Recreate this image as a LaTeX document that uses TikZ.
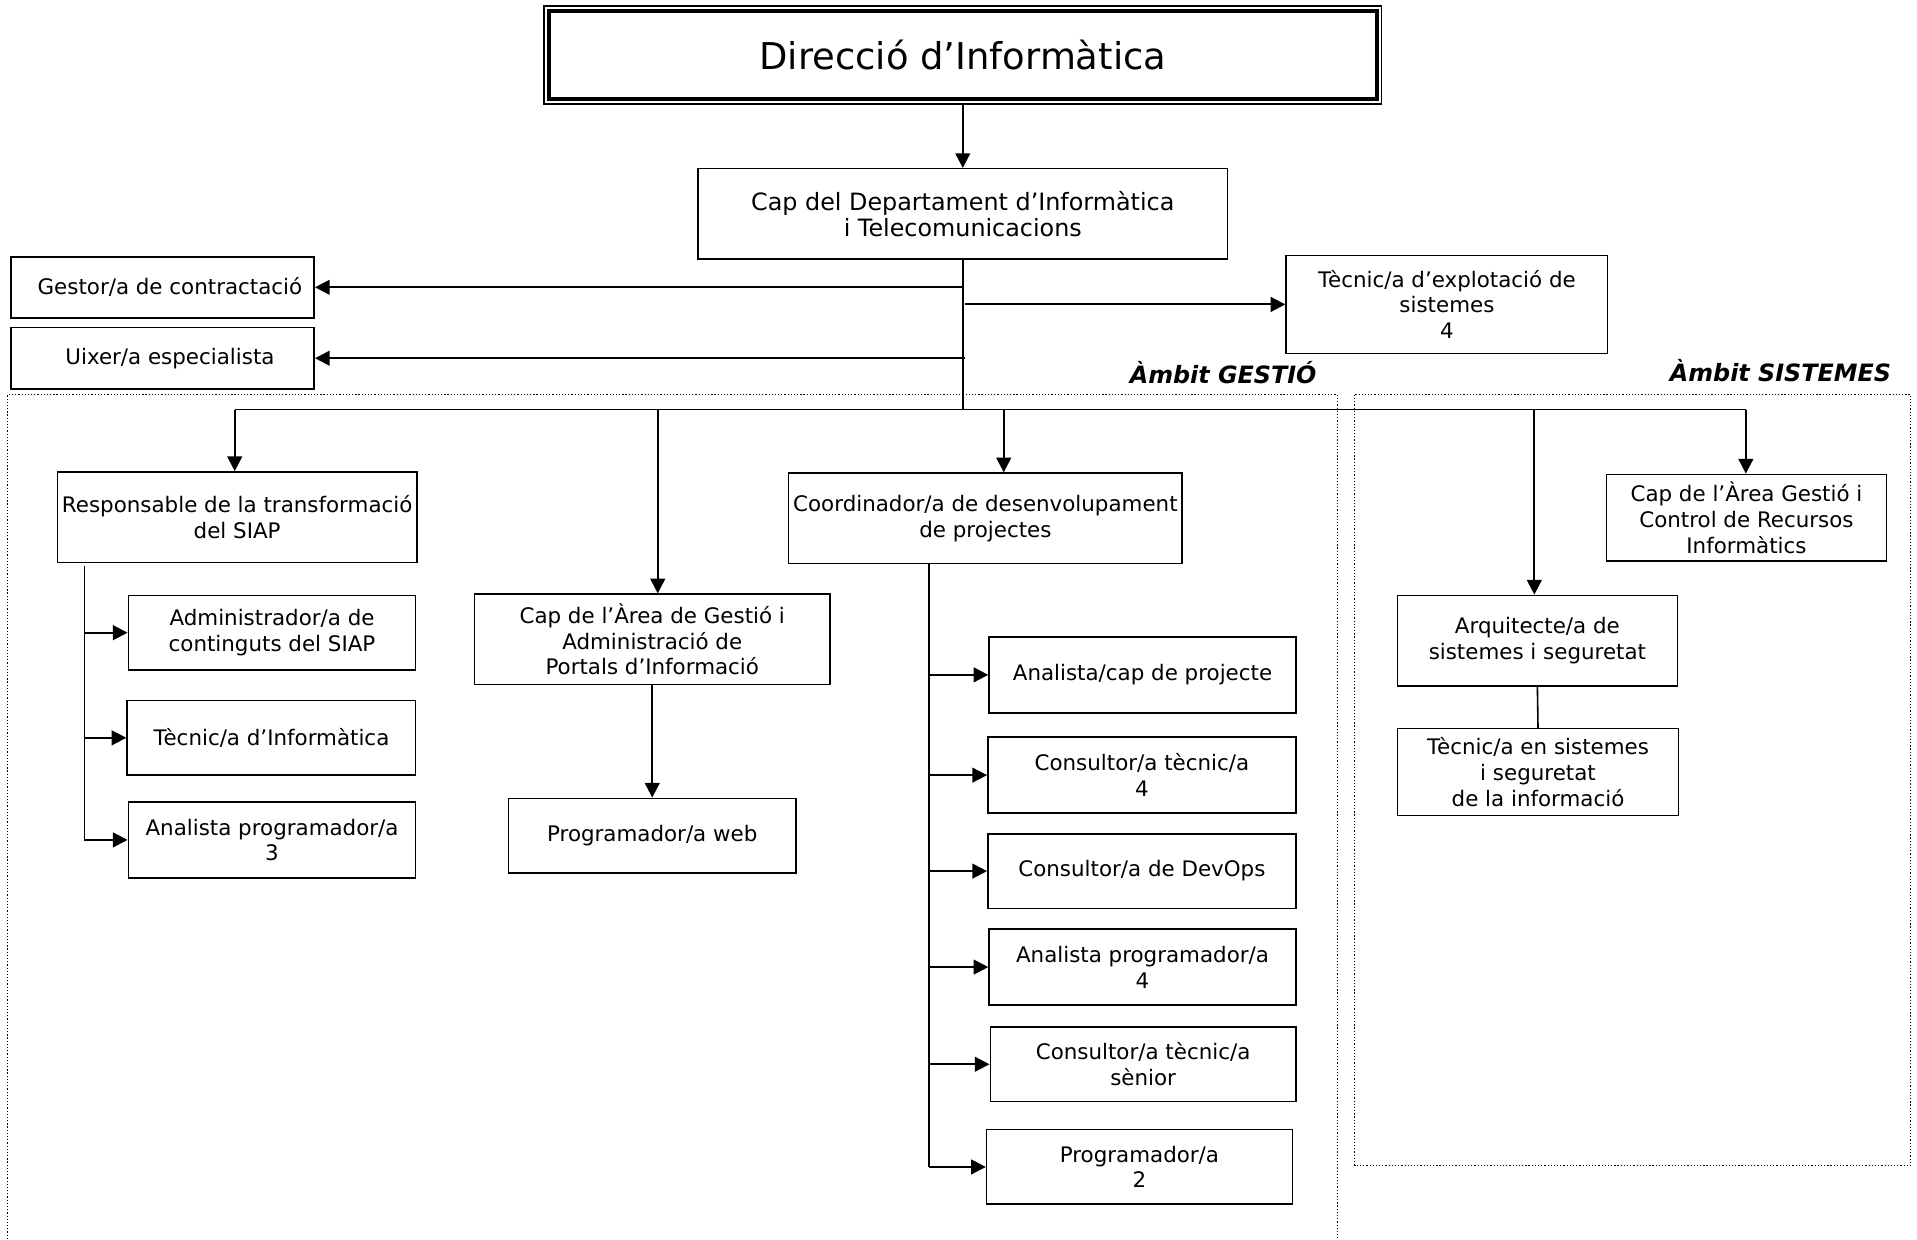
\documentclass[tikz,border=0pt]{standalone}
\usepackage{fontspec}
\setmainfont{DejaVu Sans}[ItalicFont={DejaVu Sans Oblique},BoldFont={DejaVu Sans Bold},BoldItalicFont={DejaVu Sans Bold Oblique}]
\usetikzlibrary{arrows.meta}
\newcommand\boxat[6]{\node[box,minimum width=#4,minimum height=#5] (#1) at (#2,#3) {#6};}
\begin{document}
\begin{tikzpicture}[x=1pt,y=-1pt,
  box/.style={draw,line width=1.25pt,inner sep=1pt,align=center,font=\fontsize{17.5}{21}\selectfont},
  arr/.style={line width=1.7pt,-{Triangle[length=12pt,width=12pt]}},
  ln/.style={line width=1.3pt},
  zone/.style={line width=0.9pt,dash pattern=on 1pt off 1.6pt},
  amb/.style={font=\fontsize{19.5}{23}\selectfont\bfseries\itshape,anchor=east,inner sep=0pt}]
\useasboundingbox (0,0) rectangle (1568,1014);
\fill[white] (0,0) rectangle (1568,1014);
% zones
\draw[zone] (6,1016) -- (6,323) -- (1094,323) -- (1094,1016);
\draw[zone] (1108,323) rectangle (1563,953);
\node[amb] (lg) at (1077,305) {Àmbit GESTIÓ};
\node[amb] (ls) at (1547,303) {Àmbit SISTEMES};
% title
\node[draw,line width=1pt,minimum width=685,minimum height=80,inner sep=0pt,font=\fontsize{30.2}{36}\selectfont] (dir) at (787.5,45) {Direcció d’Informàtica};
\draw[line width=3.5pt] ([shift={(4.5,4.5)}]dir.north west) rectangle ([shift={(-4.5,-4.5)}]dir.south east);
% boxes
\boxat{cap}{787.5}{175}{433}{74}{\fontsize{19.5}{24}\selectfont Cap del Departament d’Informàtica\\\fontsize{19.5}{24}\selectfont i Telecomunicacions}
\boxat{gest}{133}{235}{248}{50}{\hspace{12pt}Gestor/a de contractació}
\boxat{uix}{133}{293}{248}{50}{\hspace{12pt}Uixer/a especialista}
\boxat{expl}{1183.5}{249}{263}{80}{Tècnic/a d’explotació de\\sistemes\\4}
\boxat{resp}{194}{423}{294}{74}{Responsable de la transformació\\del SIAP}
\boxat{adm}{222.5}{517.5}{235}{61}{Administrador/a de\\continguts del SIAP}
\boxat{tec}{222}{603.5}{236}{61}{Tècnic/a d’Informàtica}
\boxat{an3}{222.5}{687}{235}{62}{Analista programador/a\\3}
\boxat{port}{533.5}{523}{291}{74}{Cap de l’Àrea de Gestió i\\Administració de\\Portals d’Informació}
\boxat{web}{533.5}{683.5}{235}{61}{Programador/a web}
\boxat{coord}{806}{424}{322}{74}{Coordinador/a de desenvolupament\\de projectes}
\boxat{acp}{934.5}{552}{251}{62}{Analista/cap de projecte}
\boxat{ct4}{934}{634}{252}{62}{Consultor/a tècnic/a\\4}
\boxat{dev}{934}{712.5}{252}{61}{Consultor/a de DevOps}
\boxat{ap4}{934.5}{791}{251}{62}{Analista programador/a\\4}
\boxat{cts}{935}{870.5}{250}{61}{Consultor/a tècnic/a\\sènior}
\boxat{pr2}{932}{954.5}{250}{61}{Programador/a\\2}
\boxat{arq}{1257.5}{524}{229}{74}{Arquitecte/a de\\sistemes i seguretat}
\boxat{tss}{1258}{631.5}{230}{71}{Tècnic/a en sistemes\\i seguretat\\de la informació}
\boxat{ctl}{1428.5}{423.5}{229}{71}{Cap de l’Àrea Gestió i\\Control de Recursos\\Informàtics}
% connectors
\draw[arr] (dir.south) -- (cap.north);
\coordinate (busy) at (0,335);
\draw[ln] (cap.south) -- (cap.south |- busy);
\draw[arr] (cap.south |- gest.east) -- (gest.east);
\draw[arr] ([xshift=2pt]cap.south |- uix.east) -- (uix.east);
\draw[arr] ([xshift=2pt]cap.south |- expl.west) -- (expl.west);
\coordinate (bL) at (192,335);
\coordinate (b2) at (538,335);
\coordinate (b3) at (821,335);
\coordinate (b4) at (1255,335);
\coordinate (bR) at (1428,335);
\draw[ln] (bL) -- (bR);
\draw[arr] (bL) -- (bL |- resp.north);
\draw[arr] (b2) -- (b2 |- port.north);
\draw[arr] (b3) -- (b3 |- coord.north);
\draw[arr] (b4) -- (b4 |- arq.north);
\draw[arr] (bR) -- (bR |- ctl.north);
% left trunk
\coordinate (tl) at (69,463);
\draw[ln] (tl) -- (tl |- an3.west);
\draw[arr] (tl |- adm.west) -- (adm.west);
\draw[arr] (tl |- tec.west) -- (tec.west);
\draw[arr] (tl |- an3.west) -- (an3.west);
% portals
\draw[arr] (port.south) -- (web.north);
% coordinator trunk
\coordinate (tc) at (760,461);
\draw[ln] (tc) -- (tc |- pr2.west);
\foreach \b in {acp,ct4,dev,ap4,cts,pr2}{\draw[arr] (tc |- \b.west) -- (\b.west);}
% sistemes
\draw[ln] (arq.south) -- (tss.north);
\end{tikzpicture}
\end{document}
